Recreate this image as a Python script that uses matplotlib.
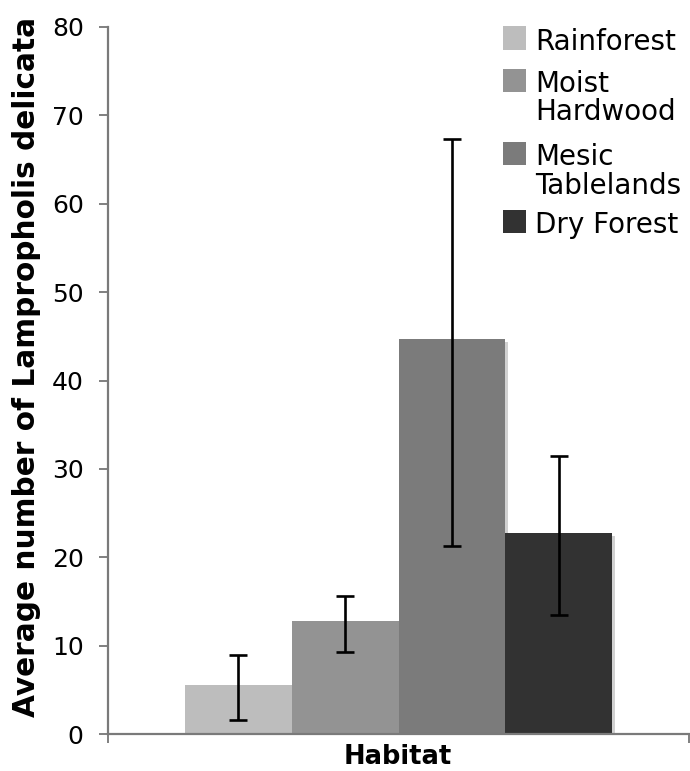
import matplotlib
matplotlib.use("Agg")
import matplotlib.pyplot as plt
import matplotlib.patheffects as pe
from matplotlib.patches import Rectangle

# ---- data ----
habitats = ["Rainforest", "Moist\nHardwood", "Mesic\nTablelands", "Dry Forest"]
means = [5.55, 12.8, 44.65, 22.8]
err_low = [1.6, 9.3, 21.3, 13.45]
err_high = [8.95, 15.65, 67.3, 31.45]
colors = ["#bdbdbd", "#939393", "#7b7b7b", "#323232"]
yticks = [0, 10, 20, 30, 40, 50, 60, 70, 80]
category = "Habitat"
ylabel = "Average number of Lampropholis delicata"

W, H = 690, 771
fig = plt.figure(figsize=(W / 100, H / 100), dpi=100)
ax = fig.add_axes([108 / W, 1 - 734.3 / H, (689 - 108) / W, (734.3 - 26.7) / H])

bw = 0.184
n = len(means)
xs = [(i - (n - 1) / 2) * bw for i in range(n)]
yerr = [[m - lo for m, lo in zip(means, err_low)], [hi - m for m, hi in zip(means, err_high)]]

bars = ax.bar(xs, means, width=bw, color=colors, edgecolor="none", zorder=2)
for b in bars:
    b.set_path_effects([pe.SimplePatchShadow(offset=(2.2, -2.2), shadow_rgbFace="0.82", alpha=1.0), pe.Normal()])
ax.errorbar(xs, means, yerr=yerr, fmt="none", ecolor="black", elinewidth=1.9,
            capsize=6.5, capthick=1.9, zorder=3)

ax.set_xlim(-0.5, 0.5)
ax.set_ylim(0, 80)
ax.set_yticks(yticks)
ax.set_yticklabels([str(t) for t in yticks], fontsize=18, family="DejaVu Sans")
ax.set_xticks([-0.5, 0.5])
ax.set_xticklabels(["", ""])
ax.tick_params(axis="both", direction="out", length=6.5, width=1.4, color="#808080", pad=11)
for s in ["top", "right"]:
    ax.spines[s].set_visible(False)
for s in ["left", "bottom"]:
    ax.spines[s].set_color("#7a7a7a")
    ax.spines[s].set_linewidth(1.6)
    ax.spines[s].set_zorder(4)

fig.text(398 / W, 1 - 757 / H, category, ha="center", va="center",
         fontsize=18.5, fontweight="bold", family="DejaVu Sans")
fig.text(27 / W, 1 - 367 / H, ylabel, ha="center", va="center", rotation=90,
         fontsize=21.3, fontweight="bold", family="DejaVu Sans")

# ---- legend (built from the category / colour lists) ----
baselines = [49.5, 91.7, 165, 233.3]
line_gap = 28.5
sq = 23
for name, col, base in zip(habitats, colors, baselines):
    fig.patches.append(Rectangle((503 / W, 1 - base / H), sq / W, sq / H,
                                 transform=fig.transFigure, facecolor=col,
                                 edgecolor="none"))
    for k, line in enumerate(name.split("\n")):
        fig.text(535 / W, 1 - (base + k * line_gap) / H, line, ha="left",
                 va="baseline", fontsize=20, family="DejaVu Sans")

fig.savefig("out.png", dpi=100)
